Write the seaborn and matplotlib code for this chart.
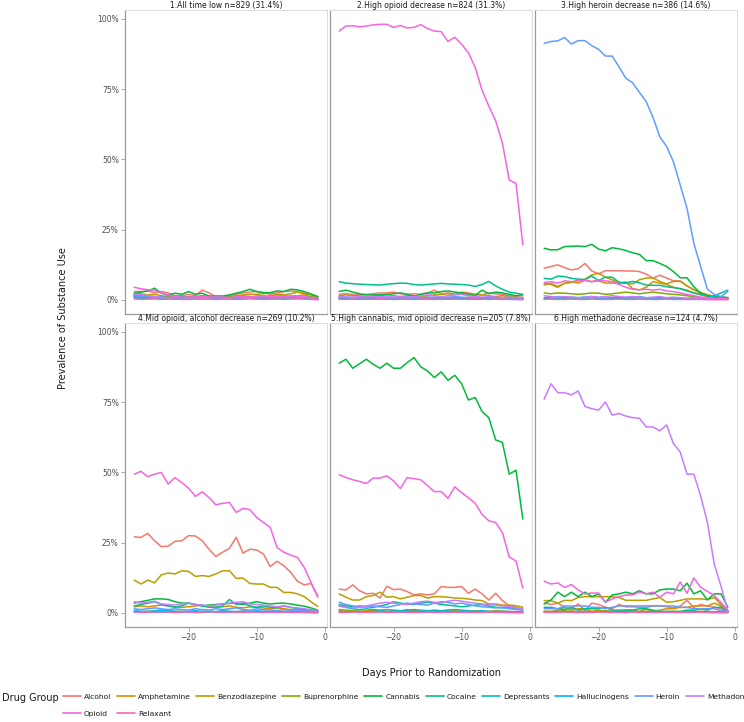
import matplotlib
matplotlib.use("Agg")
import matplotlib.pyplot as plt
from matplotlib.lines import Line2D
from matplotlib.ticker import FuncFormatter
import pandas as pd
import seaborn as sns

# days before randomization, one point per day
days = list(range(-28, 0))

drugs = ["Alcohol", "Amphetamine", "Benzodiazepine", "Buprenorphine", "Cannabis",
         "Cocaine", "Depressants", "Hallucinogens", "Heroin", "Methadone",
         "Opioid", "Relaxant"]

# ggplot-style hue palette for 12 groups
colors = ["#F8766D", "#DE8C00", "#B79F00", "#7CAE00", "#00BA38", "#00C08B",
          "#00BFC4", "#00B4F0", "#619CFF", "#C77CFF", "#F564E3", "#FF64B0"]

titles = ["1.All time low n=829 (31.4%)",
          "2.High opioid decrease n=824 (31.3%)",
          "3.High heroin decrease n=386 (14.6%)",
          "4.Mid opioid, alcohol decrease n=269 (10.2%)",
          "5.High cannabis, mid opioid decrease n=205 (7.8%)",
          "6.High methadone decrease n=124 (4.7%)"]

# prevalence (%) per drug, one dict per trajectory group
p1 = {
    "Alcohol": [3.0, 3.0, 3.2, 2.5, 3.0, 2.5, 1.5, 1.5, 2.0, 1.5, 3.5, 2.5, 1.2, 1.2, 1.5, 2.0, 2.5, 2.8, 3.0, 2.6, 2.0, 2.5, 3.0, 3.2, 3.0, 2.4, 2.0, 1.0],
    "Amphetamine": [1.5, 1.8, 1.5, 1.2, 1.0, 1.2, 1.5, 1.0, 1.2, 1.0, 1.5, 1.2, 1.0, 0.8, 1.0, 1.2, 1.5, 1.2, 1.0, 1.2, 1.5, 1.8, 1.5, 1.2, 1.5, 1.8, 1.2, 0.5],
    "Benzodiazepine": [2.0, 2.2, 1.8, 2.0, 1.5, 1.2, 1.5, 1.2, 1.0, 1.2, 1.5, 1.2, 1.0, 1.0, 1.2, 1.5, 1.8, 2.0, 2.0, 2.2, 2.5, 2.0, 1.8, 2.2, 2.8, 2.2, 1.8, 0.8],
    "Buprenorphine": [1.0, 1.2, 1.0, 0.8, 1.0, 0.8, 1.0, 0.8, 0.8, 1.0, 0.8, 1.0, 0.8, 0.8, 1.0, 0.8, 1.0, 1.2, 1.0, 0.8, 1.0, 1.2, 1.0, 1.2, 1.5, 1.2, 1.0, 0.5],
    "Cannabis": [2.4, 2.8, 3.2, 4.2, 2.4, 1.7, 2.4, 2.0, 3.0, 2.0, 2.4, 1.4, 1.4, 1.4, 1.8, 2.4, 3.0, 3.8, 3.0, 2.6, 2.6, 3.2, 3.0, 3.8, 3.6, 3.0, 2.1, 1.2],
    "Cocaine": [1.5, 1.5, 1.2, 1.0, 1.2, 0.8, 1.0, 1.2, 0.8, 0.8, 1.0, 0.8, 0.8, 1.0, 0.8, 0.8, 1.0, 0.8, 1.0, 0.8, 0.8, 1.0, 1.2, 1.0, 1.2, 1.0, 0.8, 0.4],
    "Depressants": [0.8, 0.6, 0.5, 0.5, 0.6, 0.5, 0.4, 0.5, 0.5, 0.4, 0.5, 0.5, 0.4, 0.5, 0.5, 0.4, 0.5, 0.6, 0.5, 0.5, 0.4, 0.5, 0.5, 0.6, 0.5, 0.5, 0.4, 0.2],
    "Hallucinogens": [1.2, 1.0, 1.0, 0.8, 0.6, 0.6, 0.5, 0.6, 0.5, 0.6, 0.5, 0.6, 0.5, 0.5, 0.6, 0.5, 0.5, 0.6, 0.5, 0.6, 0.8, 1.0, 1.2, 1.0, 0.8, 0.6, 0.5, 0.2],
    "Heroin": [1.5, 1.2, 1.0, 1.0, 0.8, 0.8, 1.0, 0.8, 0.8, 0.8, 0.6, 0.8, 0.8, 0.6, 0.8, 0.8, 0.6, 0.8, 1.0, 0.8, 0.8, 1.0, 0.8, 1.0, 1.2, 1.0, 0.8, 0.4],
    "Methadone": [2.0, 1.8, 1.5, 1.2, 1.0, 0.8, 1.0, 0.8, 0.8, 1.0, 0.8, 0.8, 1.0, 0.8, 0.8, 1.0, 1.2, 1.0, 1.0, 1.5, 1.2, 1.0, 1.2, 1.5, 1.2, 1.0, 0.8, 0.4],
    "Opioid": [4.5, 4.0, 3.6, 3.4, 2.5, 1.8, 1.2, 1.0, 1.0, 1.0, 1.2, 1.0, 1.0, 1.0, 0.8, 1.0, 1.2, 1.0, 1.5, 1.5, 1.0, 1.2, 1.4, 1.0, 1.5, 1.2, 0.8, 0.5],
    "Relaxant": [0.3, 0.2, 0.3, 0.4, 0.2, 0.3, 0.3, 0.2, 0.2, 0.3, 0.4, 0.3, 0.2, 0.3, 0.3, 0.2, 0.3, 0.4, 0.3, 0.2, 0.3, 0.3, 0.2, 0.3, 0.4, 0.3, 0.2, 0.1],
}

p2 = {
    "Alcohol": [2.0, 2.2, 2.0, 1.8, 2.0, 2.2, 2.5, 2.5, 2.8, 2.2, 2.0, 2.2, 2.0, 2.5, 3.5, 2.2, 2.5, 2.0, 2.8, 2.5, 2.0, 1.8, 2.5, 2.2, 2.0, 1.5, 1.0, 1.0],
    "Amphetamine": [0.8, 0.6, 0.8, 0.5, 0.6, 0.8, 0.6, 0.5, 0.6, 0.8, 0.6, 0.5, 0.6, 0.8, 0.6, 0.5, 0.6, 0.8, 0.6, 1.0, 0.8, 0.6, 0.8, 1.0, 0.8, 0.6, 0.5, 0.5],
    "Benzodiazepine": [1.5, 1.8, 1.5, 1.5, 1.2, 1.5, 1.5, 1.8, 1.5, 1.2, 1.5, 1.5, 1.2, 1.5, 1.8, 2.0, 2.2, 2.0, 2.5, 2.2, 2.0, 1.8, 1.5, 1.2, 1.5, 1.2, 1.0, 0.8],
    "Buprenorphine": [0.5, 0.5, 0.4, 0.5, 0.6, 0.5, 0.4, 0.5, 0.6, 0.5, 0.4, 0.5, 0.5, 0.6, 0.5, 0.4, 0.5, 0.6, 0.5, 0.5, 0.4, 0.5, 0.6, 0.5, 0.4, 0.5, 0.5, 0.4],
    "Cannabis": [3.0, 3.5, 2.8, 2.2, 1.8, 1.8, 1.8, 2.0, 2.2, 2.5, 2.0, 1.3, 2.0, 2.5, 2.5, 3.0, 3.2, 2.8, 2.5, 2.0, 1.5, 3.5, 2.2, 2.8, 2.5, 2.0, 1.5, 1.8],
    "Cocaine": [6.5, 6.0, 5.8, 5.6, 5.5, 5.4, 5.3, 5.6, 5.8, 6.0, 5.9, 5.5, 5.3, 5.5, 5.7, 5.9, 5.7, 5.6, 5.5, 5.3, 4.8, 5.5, 6.6, 5.0, 3.8, 2.8, 2.4, 2.0],
    "Depressants": [0.3, 0.4, 0.3, 0.2, 0.3, 0.3, 0.4, 0.3, 0.2, 0.3, 0.3, 0.4, 0.3, 0.3, 0.2, 0.3, 0.4, 0.3, 0.3, 0.2, 0.3, 0.3, 0.4, 0.3, 0.2, 0.3, 0.2, 0.2],
    "Hallucinogens": [0.6, 0.5, 0.5, 0.6, 0.4, 0.5, 0.6, 0.5, 0.5, 0.4, 0.6, 0.5, 0.5, 0.6, 0.5, 0.4, 0.5, 0.6, 0.5, 0.5, 0.4, 0.5, 0.6, 0.5, 0.4, 0.4, 0.3, 0.3],
    "Heroin": [1.2, 1.0, 0.8, 1.0, 0.8, 1.0, 1.2, 1.0, 0.8, 1.0, 1.2, 1.0, 0.8, 1.0, 1.0, 0.8, 1.0, 1.2, 1.0, 0.8, 1.0, 0.8, 1.0, 0.8, 0.6, 0.8, 0.6, 0.5],
    "Methadone": [1.2, 1.0, 1.0, 1.2, 1.5, 1.2, 1.0, 1.2, 1.0, 1.2, 1.0, 1.2, 1.5, 1.8, 1.5, 1.2, 1.5, 1.8, 2.0, 1.5, 1.2, 1.5, 1.2, 1.0, 0.8, 1.0, 0.8, 0.8],
    "Opioid": [95.7, 97.5, 97.6, 97.2, 97.5, 97.9, 98.1, 98.1, 97.0, 97.7, 96.8, 97.0, 98.0, 96.6, 95.7, 95.5, 92.0, 93.5, 91.0, 88.0, 82.7, 74.7, 69.0, 63.8, 55.8, 42.7, 41.5, 19.6],
    "Relaxant": [0.3, 0.2, 0.3, 0.3, 0.2, 0.3, 0.4, 0.3, 0.2, 0.3, 0.3, 0.2, 0.3, 0.4, 0.3, 0.2, 0.3, 0.3, 0.2, 0.3, 0.4, 0.3, 0.2, 0.3, 0.3, 0.2, 0.2, 0.1],
}

p3 = {
    "Alcohol": [11.3, 11.9, 12.5, 11.5, 10.7, 11.1, 13.0, 10.3, 9.3, 10.4, 10.4, 10.4, 10.3, 10.3, 10.1, 9.2, 7.8, 8.8, 7.8, 6.8, 6.8, 5.0, 3.6, 2.4, 1.4, 1.0, 0.8, 0.8],
    "Amphetamine": [6.0, 5.5, 4.5, 6.0, 6.5, 6.0, 7.0, 6.5, 6.8, 6.0, 6.0, 6.0, 6.4, 4.0, 3.6, 4.5, 6.5, 6.0, 5.5, 4.5, 4.0, 3.5, 2.5, 1.8, 1.2, 0.8, 0.6, 0.5],
    "Benzodiazepine": [5.3, 5.9, 4.8, 5.9, 6.2, 7.1, 7.4, 8.9, 9.5, 8.1, 7.2, 5.9, 6.0, 5.7, 7.2, 7.8, 7.8, 6.6, 5.7, 6.6, 6.6, 5.0, 3.6, 2.7, 1.9, 1.3, 0.9, 0.8],
    "Buprenorphine": [2.5, 2.2, 2.5, 2.4, 2.2, 2.0, 2.2, 2.5, 2.4, 2.0, 2.2, 2.5, 2.8, 2.5, 2.2, 2.5, 2.8, 2.5, 2.2, 2.0, 1.8, 1.5, 1.2, 0.8, 0.6, 0.5, 0.5, 0.4],
    "Cannabis": [18.4, 17.8, 17.9, 19.0, 19.1, 19.2, 19.0, 19.8, 18.1, 17.5, 18.6, 18.2, 17.6, 16.8, 16.2, 14.0, 14.0, 13.0, 11.9, 10.1, 7.9, 7.9, 4.7, 2.4, 1.4, 1.1, 1.1, 0.8],
    "Cocaine": [7.7, 7.4, 8.5, 8.3, 7.7, 7.4, 7.2, 8.5, 6.9, 8.1, 8.1, 6.3, 6.1, 6.6, 6.1, 5.3, 5.2, 5.2, 4.7, 4.4, 4.0, 3.2, 2.4, 2.0, 1.5, 1.2, 0.8, 0.8],
    "Depressants": [0.5, 0.5, 0.4, 0.6, 0.5, 0.4, 0.5, 0.5, 0.6, 0.4, 0.5, 0.5, 0.4, 0.5, 0.6, 0.5, 0.4, 0.5, 0.5, 0.4, 0.5, 0.4, 0.5, 0.4, 0.8, 1.5, 2.5, 3.5],
    "Hallucinogens": [0.8, 1.0, 1.2, 0.8, 1.0, 0.8, 1.0, 1.2, 0.8, 0.6, 0.8, 1.0, 0.8, 1.0, 1.2, 0.8, 0.6, 0.8, 0.6, 0.5, 0.6, 0.5, 0.4, 0.3, 0.3, 0.3, 0.3, 0.3],
    "Heroin": [91.3, 92.0, 92.2, 93.4, 91.1, 92.3, 92.3, 90.5, 89.2, 86.8, 86.8, 83.0, 78.9, 77.3, 73.9, 70.6, 65.0, 58.1, 54.6, 49.2, 40.9, 32.6, 20.2, 11.9, 3.8, 2.0, 1.2, 3.0],
    "Methadone": [1.5, 1.2, 1.0, 1.2, 1.0, 0.8, 1.0, 1.2, 1.0, 1.2, 1.5, 1.2, 1.0, 1.2, 1.0, 0.8, 1.0, 1.2, 0.8, 1.0, 0.8, 0.6, 0.8, 0.5, 0.5, 0.4, 0.4, 0.3],
    "Opioid": [6.2, 6.5, 6.0, 6.8, 6.5, 6.8, 7.0, 6.5, 7.2, 6.8, 6.5, 5.5, 4.5, 3.8, 3.6, 3.8, 3.5, 3.8, 3.2, 3.0, 2.5, 2.0, 1.5, 1.0, 0.8, 0.5, 0.5, 0.4],
    "Relaxant": [0.2, 0.3, 0.2, 0.2, 0.3, 0.2, 0.2, 0.3, 0.2, 0.2, 0.2, 0.3, 0.2, 0.2, 0.3, 0.2, 0.2, 0.2, 0.3, 0.2, 0.2, 0.2, 0.2, 0.2, 0.1, 0.1, 0.1, 0.1],
}

p4 = {
    "Alcohol": [27.1, 26.9, 28.3, 25.7, 23.6, 23.8, 25.5, 25.7, 27.5, 27.4, 25.7, 22.7, 20.1, 21.6, 23.0, 26.9, 21.3, 22.7, 22.4, 21.0, 16.5, 18.4, 16.8, 14.5, 11.3, 10.0, 10.5, 6.0],
    "Amphetamine": [2.2, 2.5, 2.2, 2.5, 2.8, 2.5, 2.2, 2.0, 2.2, 2.5, 2.8, 2.2, 2.0, 2.2, 2.5, 2.0, 1.8, 2.2, 2.0, 1.8, 1.5, 1.8, 1.5, 1.2, 1.0, 1.2, 0.8, 0.5],
    "Benzodiazepine": [11.7, 10.3, 11.7, 10.7, 13.6, 14.2, 13.9, 15.0, 14.8, 13.0, 13.3, 13.0, 13.9, 15.0, 15.0, 12.3, 12.4, 10.5, 10.3, 10.3, 9.1, 9.1, 7.3, 7.3, 6.8, 5.8, 4.0, 2.3],
    "Buprenorphine": [0.5, 0.4, 0.6, 0.5, 0.4, 0.5, 0.6, 0.5, 0.4, 0.5, 0.5, 0.6, 0.4, 0.5, 0.5, 0.4, 0.6, 0.5, 0.4, 0.5, 0.5, 0.4, 0.5, 0.4, 0.4, 0.3, 0.3, 0.2],
    "Cannabis": [3.5, 4.0, 4.5, 5.0, 5.0, 4.8, 4.0, 3.5, 3.5, 3.0, 2.5, 2.8, 3.0, 3.2, 3.4, 3.5, 3.0, 3.5, 4.0, 3.5, 3.2, 3.4, 3.5, 3.2, 2.8, 2.4, 1.8, 1.0],
    "Cocaine": [2.5, 3.0, 3.5, 4.0, 3.0, 2.5, 2.0, 2.5, 3.5, 3.0, 2.5, 2.0, 2.0, 2.5, 4.8, 3.0, 3.5, 2.5, 2.0, 2.5, 2.0, 1.8, 2.5, 2.0, 1.5, 1.2, 1.0, 0.8],
    "Depressants": [0.3, 0.3, 0.4, 0.3, 0.2, 0.3, 0.3, 0.4, 0.3, 0.3, 0.2, 0.3, 0.4, 0.3, 0.3, 0.2, 0.3, 0.3, 0.4, 0.3, 0.2, 0.3, 0.3, 0.2, 0.3, 0.2, 0.2, 0.1],
    "Hallucinogens": [0.8, 0.6, 0.5, 0.8, 1.0, 0.8, 0.6, 0.5, 0.6, 0.8, 0.5, 0.6, 0.5, 0.8, 0.6, 0.5, 0.6, 0.5, 0.8, 0.6, 0.5, 0.4, 0.5, 0.6, 0.4, 0.5, 0.3, 0.3],
    "Heroin": [1.5, 1.2, 1.5, 1.8, 1.5, 1.2, 1.5, 1.2, 1.0, 1.5, 1.2, 1.0, 1.5, 1.2, 1.5, 1.8, 1.2, 1.0, 1.5, 1.2, 1.0, 0.8, 1.2, 1.0, 0.8, 0.8, 0.6, 0.5],
    "Methadone": [4.0, 3.5, 3.8, 4.2, 3.2, 3.0, 2.8, 3.2, 3.5, 3.0, 2.8, 2.5, 2.8, 3.2, 3.5, 3.8, 4.0, 3.2, 3.0, 2.8, 2.5, 2.2, 2.5, 2.0, 1.8, 1.5, 1.2, 0.8],
    "Opioid": [49.4, 50.4, 48.5, 49.4, 50.0, 45.9, 48.2, 46.4, 44.4, 41.5, 43.1, 41.1, 38.5, 39.0, 39.3, 35.8, 37.2, 36.8, 34.0, 32.2, 30.5, 23.3, 21.6, 20.6, 19.8, 16.2, 10.9, 5.6],
    "Relaxant": [0.3, 0.2, 0.3, 0.3, 0.4, 0.3, 0.2, 0.3, 0.3, 0.2, 0.3, 0.4, 0.3, 0.2, 0.3, 0.3, 0.2, 0.3, 0.3, 0.2, 0.3, 0.2, 0.3, 0.2, 0.2, 0.2, 0.1, 0.1],
}

p5 = {
    "Alcohol": [8.5, 8.2, 10.0, 7.9, 6.8, 7.0, 5.3, 9.5, 8.3, 8.5, 7.6, 6.4, 6.8, 6.4, 6.8, 9.4, 9.1, 9.1, 9.4, 7.0, 8.5, 6.8, 4.6, 7.0, 4.4, 2.6, 2.0, 1.4],
    "Amphetamine": [0.8, 0.5, 0.6, 0.5, 0.8, 1.0, 0.6, 0.5, 0.8, 0.6, 1.2, 0.8, 0.6, 0.5, 0.8, 0.6, 1.0, 0.8, 0.6, 0.5, 0.8, 0.6, 0.5, 0.8, 0.6, 0.5, 0.4, 0.3],
    "Benzodiazepine": [6.8, 5.6, 4.6, 4.6, 5.8, 6.2, 7.4, 5.6, 5.8, 5.0, 5.6, 6.2, 6.2, 5.3, 5.8, 5.8, 5.6, 5.3, 5.2, 5.0, 4.6, 4.4, 3.2, 3.2, 2.8, 2.8, 2.6, 2.0],
    "Buprenorphine": [1.2, 1.0, 0.8, 0.6, 0.5, 0.6, 0.8, 0.5, 0.6, 0.5, 0.4, 0.5, 0.6, 0.5, 0.4, 0.5, 0.6, 0.5, 0.4, 0.5, 0.4, 0.5, 0.4, 0.3, 0.4, 0.3, 0.3, 0.2],
    "Cannabis": [88.9, 90.3, 87.1, 88.7, 90.3, 88.5, 87.1, 88.9, 87.1, 87.1, 89.1, 90.9, 87.6, 86.1, 83.8, 85.8, 82.8, 84.6, 81.6, 75.8, 76.7, 71.7, 69.5, 61.6, 60.7, 49.4, 50.8, 33.4],
    "Cocaine": [3.0, 2.5, 2.2, 2.5, 2.2, 2.0, 2.5, 3.0, 4.0, 3.5, 3.2, 3.0, 3.5, 3.8, 3.5, 3.0, 2.8, 2.5, 2.2, 2.5, 2.8, 3.0, 2.5, 2.0, 1.8, 2.0, 1.5, 1.2],
    "Depressants": [2.5, 2.0, 1.5, 1.2, 1.5, 1.2, 1.0, 1.2, 1.0, 0.8, 1.0, 1.2, 1.0, 0.8, 1.0, 0.8, 1.0, 1.2, 1.0, 0.8, 0.6, 0.8, 0.6, 0.5, 0.6, 0.5, 0.4, 0.3],
    "Hallucinogens": [0.5, 0.4, 0.4, 0.5, 0.3, 0.4, 0.5, 0.4, 0.4, 0.3, 0.4, 0.5, 0.4, 0.4, 0.3, 0.4, 0.5, 0.4, 0.3, 0.4, 0.4, 0.3, 0.4, 0.3, 0.3, 0.3, 0.2, 0.2],
    "Heroin": [3.8, 3.0, 2.5, 2.0, 2.2, 2.5, 2.2, 2.0, 2.5, 3.0, 3.5, 3.2, 3.0, 2.8, 3.5, 4.0, 3.8, 3.2, 3.5, 3.0, 2.5, 2.2, 2.0, 1.8, 2.0, 1.5, 1.2, 1.0],
    "Methadone": [2.5, 2.0, 1.8, 2.2, 2.5, 3.0, 3.5, 3.8, 3.5, 3.2, 3.0, 3.5, 4.0, 4.2, 3.8, 3.5, 4.2, 4.5, 4.2, 3.8, 3.5, 3.2, 3.0, 2.8, 2.5, 2.2, 1.8, 1.2],
    "Opioid": [49.2, 48.2, 47.4, 46.8, 46.1, 48.0, 48.0, 48.8, 47.0, 44.3, 48.2, 47.8, 47.4, 45.3, 43.2, 43.2, 40.8, 44.9, 42.8, 41.0, 39.0, 35.1, 32.8, 32.2, 28.6, 19.9, 18.5, 8.9],
    "Relaxant": [0.2, 0.2, 0.3, 0.2, 0.2, 0.2, 0.3, 0.2, 0.2, 0.3, 0.2, 0.2, 0.2, 0.3, 0.2, 0.2, 0.2, 0.3, 0.2, 0.2, 0.2, 0.2, 0.3, 0.2, 0.2, 0.1, 0.1, 0.1],
}

p6 = {
    "Alcohol": [3.5, 3.0, 3.5, 2.0, 1.5, 3.2, 1.0, 3.5, 3.0, 2.0, 1.5, 3.0, 2.2, 2.2, 2.0, 2.0, 2.5, 2.5, 2.2, 1.8, 2.5, 4.5, 2.0, 3.0, 2.5, 2.0, 1.5, 0.5],
    "Amphetamine": [0.5, 0.5, 1.0, 2.0, 1.0, 1.5, 1.5, 0.5, 1.0, 0.5, 0.5, 0.5, 1.0, 1.0, 0.5, 1.5, 0.5, 1.0, 1.5, 1.5, 2.0, 2.0, 2.5, 2.5, 2.5, 3.5, 2.5, 0.5],
    "Benzodiazepine": [4.4, 4.4, 3.5, 4.5, 4.4, 5.5, 5.8, 5.8, 5.8, 5.8, 5.8, 5.5, 4.5, 4.5, 4.5, 4.5, 5.0, 5.5, 3.8, 4.0, 4.5, 5.0, 5.0, 5.0, 4.8, 5.5, 3.0, 0.5],
    "Buprenorphine": [0.6, 0.5, 0.6, 0.8, 0.6, 0.5, 0.6, 0.5, 0.6, 0.8, 0.6, 0.5, 0.6, 0.5, 0.5, 0.6, 0.8, 0.6, 0.5, 0.6, 0.5, 0.6, 0.5, 0.6, 0.5, 0.4, 0.4, 0.3],
    "Cannabis": [3.2, 4.6, 7.4, 5.8, 7.4, 5.8, 7.4, 5.8, 6.8, 3.8, 6.4, 6.8, 7.4, 6.8, 7.9, 6.8, 6.8, 8.2, 8.5, 8.5, 7.9, 10.6, 6.8, 7.9, 4.6, 6.8, 6.8, 2.0],
    "Cocaine": [2.0, 2.0, 1.5, 1.2, 2.0, 1.0, 1.5, 1.5, 1.5, 2.0, 1.0, 1.0, 1.0, 1.0, 1.5, 1.5, 1.0, 0.5, 0.5, 0.5, 0.5, 1.0, 1.0, 1.5, 1.0, 2.0, 2.0, 0.5],
    "Depressants": [0.3, 0.3, 0.4, 0.3, 0.3, 0.2, 0.3, 0.3, 0.4, 0.3, 0.3, 0.3, 0.2, 0.3, 0.3, 0.4, 0.3, 0.3, 0.2, 0.3, 0.3, 0.3, 0.4, 0.3, 0.3, 0.2, 0.2, 0.2],
    "Hallucinogens": [0.4, 0.4, 0.5, 0.4, 0.4, 0.4, 0.5, 0.4, 0.4, 0.4, 0.5, 0.4, 0.4, 0.4, 0.5, 0.4, 0.4, 0.4, 0.5, 0.4, 0.4, 0.4, 0.5, 0.4, 0.4, 0.3, 0.3, 0.3],
    "Heroin": [1.5, 1.5, 1.5, 2.5, 2.5, 2.5, 2.5, 2.0, 2.0, 1.5, 2.0, 2.5, 2.5, 2.5, 2.5, 2.5, 2.5, 2.5, 2.5, 2.5, 2.0, 2.0, 1.5, 1.5, 1.5, 1.5, 0.8, 0.5],
    "Methadone": [76.1, 81.6, 78.4, 78.4, 77.6, 79.0, 73.5, 72.7, 72.2, 75.1, 70.4, 71.0, 70.1, 69.5, 69.3, 66.2, 66.2, 64.8, 66.9, 60.3, 57.3, 49.4, 49.4, 41.7, 32.2, 17.4, 9.5, 0.8],
    "Opioid": [11.3, 10.3, 10.7, 9.1, 10.1, 8.2, 6.8, 7.1, 7.1, 3.8, 5.0, 5.8, 6.4, 6.4, 7.4, 6.8, 7.4, 5.6, 7.4, 6.8, 11.0, 7.0, 12.5, 9.1, 7.7, 6.2, 3.8, 0.8],
    "Relaxant": [0.2, 0.2, 0.2, 0.3, 0.2, 0.2, 0.2, 0.2, 0.3, 0.2, 0.2, 0.2, 0.2, 0.3, 0.2, 0.2, 0.2, 0.2, 0.3, 0.2, 0.2, 0.2, 0.2, 0.2, 0.2, 0.1, 0.1, 0.1],
}

panels = [p1, p2, p3, p4, p5, p6]

# long-form table for seaborn
rows = []
for title, panel in zip(titles, panels):
    for drug in drugs:
        vals = panel[drug]
        assert len(vals) == len(days), (title, drug, len(vals))
        for day, v in zip(days, vals):
            rows.append((title, drug, day, v))
df = pd.DataFrame(rows, columns=["cluster", "drug", "day", "value"])

sns.set_theme(style="white")
plt.rcParams["font.family"] = ["DejaVu Sans"]

W, H = 744, 722
fig = plt.figure(figsize=(W / 100, H / 100), dpi=100)

lefts = [125, 330, 535]
tops = [10, 323]
pw, ph = 202, 304
tick_grey = "#4d4d4d"

for i, title in enumerate(titles):
    r, c = divmod(i, 3)
    ax = fig.add_axes([lefts[c] / W, 1 - (tops[r] + ph) / H, pw / W, ph / H])
    sns.lineplot(data=df[df["cluster"] == title], x="day", y="value",
                 hue="drug", hue_order=drugs, palette=colors,
                 linewidth=1.1, errorbar=None, legend=False, ax=ax)
    ax.set_xlim(-29.35, 0.35)
    ax.set_ylim(-5.0, 103.2)
    ax.set_xticks([-20, -10, 0])
    ax.set_yticks([0, 25, 50, 75, 100])
    ax.yaxis.set_major_formatter(FuncFormatter(lambda v, pos: f"{int(v)}%"))
    ax.set_xlabel("")
    ax.set_ylabel("")
    ax.set_title(title, fontsize=5.5, color="#1a1a1a", pad=1.2)
    ax.grid(False)
    for side in ["left", "bottom"]:
        ax.spines[side].set_color("#9a9a9a")
        ax.spines[side].set_linewidth(0.9)
    for side in ["top", "right"]:
        ax.spines[side].set_color("#dcdcdc")
        ax.spines[side].set_linewidth(0.7)
    ax.tick_params(axis="both", labelsize=5.5, labelcolor=tick_grey,
                   color="#9a9a9a", length=3, width=0.6, pad=1.5)
    if c != 0:
        ax.tick_params(axis="y", left=False, labelleft=False)
    else:
        ax.tick_params(axis="y", left=True)
    if r == 0:
        ax.tick_params(axis="x", bottom=False, labelbottom=False)
    else:
        ax.tick_params(axis="x", bottom=True)

fig.text(63 / W, 1 - 318 / H, "Prevalence of Substance Use", rotation=90,
         ha="center", va="center", fontsize=7, color="#1a1a1a")
fig.text(431 / W, 1 - 673 / H, "Days Prior to Randomization",
         ha="center", va="center", fontsize=7, color="#1a1a1a")
fig.text(2 / W, 1 - 698 / H, "Drug Group", ha="left", va="center",
         fontsize=7, color="#1a1a1a")

# legend fills column by column, so interleave to get a row-wise layout
order = [0, 10, 1, 11, 2, 3, 4, 5, 6, 7, 8, 9]
handles = [Line2D([], [], color=colors[k], lw=1.2) for k in order]
labels = [drugs[k] for k in order]
fig.legend(handles, labels, ncol=10, loc="upper left",
           bbox_to_anchor=(63 / W, 1 - 693.5 / H), frameon=False,
           fontsize=5.4, handlelength=2.4, handletextpad=0.4,
           columnspacing=0.75, labelspacing=1.45, borderpad=0,
           borderaxespad=0, labelcolor="#1a1a1a")

fig.savefig("out.png", dpi=100)
